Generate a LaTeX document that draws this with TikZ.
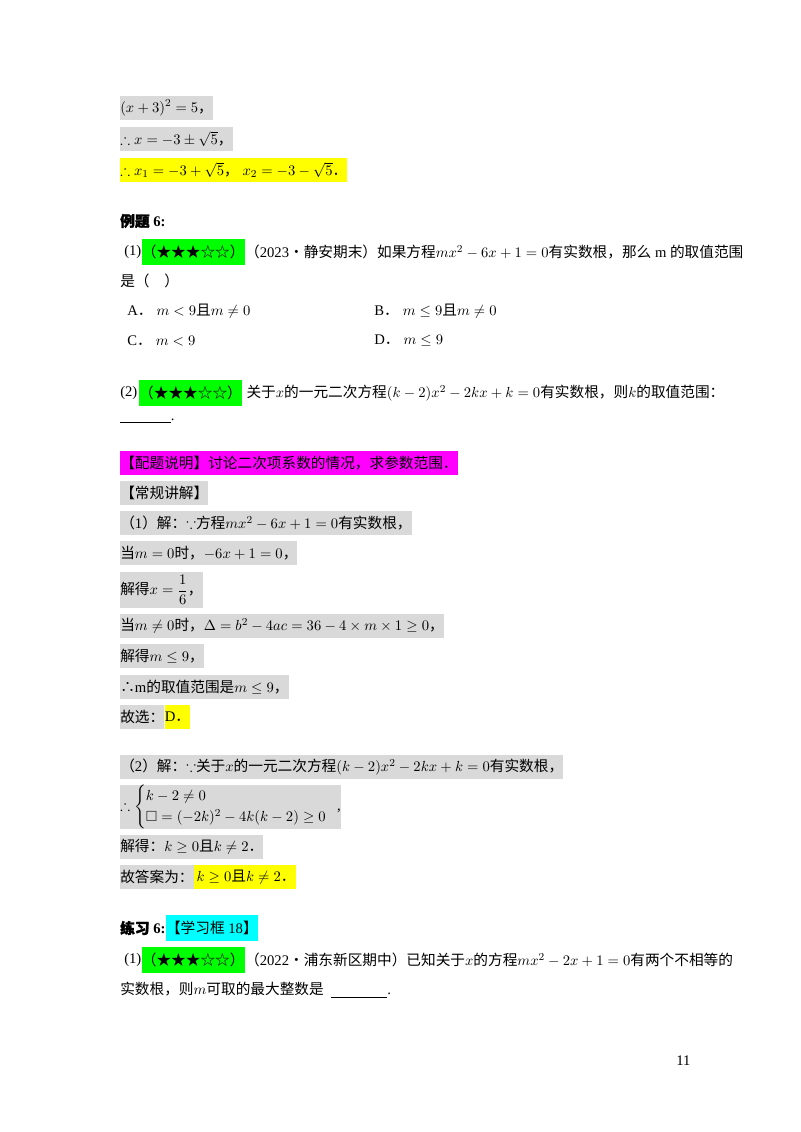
\documentclass[tikz,border=0pt]{standalone}
\usepackage{amsmath,amssymb}
\usepackage{fontspec}
\setmainfont{Liberation Serif}
\newfontfamily\cjk{Noto Sans CJK SC}
\newfontfamily\cjkb{Noto Sans CJK SC}[FakeBold=2]
\definecolor{hg}{HTML}{D9D9D9}
\definecolor{hgr}{HTML}{00FF00}
\definecolor{hy}{HTML}{FFFF00}
\definecolor{hm}{HTML}{FF00FF}
\definecolor{hc}{HTML}{00FFFF}
\newcommand{\C}[1]{{\cjk #1}}
\begin{document}
\begin{tikzpicture}[x=0.75pt,y=-0.75pt,
  every node/.style={font=\fontsize{11}{13}\selectfont},
  t/.style={anchor=west,inner xsep=0pt,inner ysep=0pt,minimum height=18pt},
  g/.style={t,fill=hg},
  gr/.style={t,fill=hgr},
  ye/.style={t,fill=hy}]
\useasboundingbox (0,0) rectangle (800,1132);
\fill[white] (0,0) rectangle (800,1132);

\node[g] (l1) at (120,108) {$(x+3)^2=5$\C{，}};
\node[g] (l2) at (120,139) {$\therefore x=-3\pm\sqrt5$\C{，}};
\node[ye] (l3) at (120,170) {$\therefore x_1=-3+\sqrt5$\C{，} $x_2=-3-\sqrt5$\C{．}};

\node[t] (e6) at (120,221) {\textbf{\cjkb 例题} \textbf{6:}};
\node[t] (p1a) at (124,252) {(1)};
\node[gr,minimum height=19pt] (p1b) at (p1a.east) {\C{（★★★☆☆）}};
\node[t] (p1c) at (p1b.east) {\C{（}2023\C{•静安期末）如果方程}$mx^2-6x+1=0$\C{有实数根，那么} m \C{的取值范围}};
\node[t] (p1d) at (120,281) {\C{是（\quad ）}};
\node[t] (oa) at (127,311) {A\C{．}\;$m<9$\C{且}$m\neq0$};
\node[t] (ob) at (374,311) {B\C{．}\;$m\le9$\C{且}$m\neq0$};
\node[t] (oc) at (127,341) {C\C{．}\;$m<9$};
\node[t] (od) at (374,341) {D\C{．}\;$m\le9$};

\node[t] (p2a) at (120,393) {(2)};
\node[gr,minimum height=19pt] (p2b) at ([xshift=1]p2a.east) {\C{（★★★☆☆）}};
\node[t] (p2c) at (p2b.east) {\;\C{关于}$x$\C{的一元二次方程}$(k-2)x^2-2kx+k=0$\C{有实数根，则}$k$\C{的取值范围：}};
\node[t] (p2d) at (120,421) {\underline{\hspace{38pt}}.};

\node[t,fill=hm] (m1) at (120,463) {\C{【配题说明】讨论二次项系数的情况，求参数范围．}};
\node[g] (s0) at (120,493) {\C{【常规讲解】}};
\node[g] (s1) at (120,523) {\C{（}1\C{）解：}$\because$\C{方程}$mx^2-6x+1=0$\C{有实数根，}};
\node[g] (s2) at (120,553) {\C{当}$m=0$\C{时，}$-6x+1=0$\C{，}};
\node[g,minimum height=27pt] (s3) at (120,590) {\C{解得}$x=\dfrac16$\C{，}};
\node[g] (s4) at (120,626) {\C{当}$m\neq0$\C{时，}$\Delta=b^2-4ac=36-4\times m\times1\ge0$\C{，}};
\node[g] (s5) at (120,656) {\C{解得}$m\le9$\C{，}};
\node[g] (s6) at (120,687) {\C{∴}m\C{的取值范围是}$m\le9$\C{，}};
\node[g] (s7a) at (120,717) {\C{故选：}};
\node[ye] (s7b) at (s7a.east) {D\C{．}};

\node[g] (r1) at (120,767) {\C{（}2\C{）解：}$\because$\C{关于}$x$\C{的一元二次方程}$(k-2)x^2-2kx+k=0$\C{有实数根，}};
\node[g,minimum height=32pt] (r2) at (120,807) {$\therefore\begin{cases}k-2\neq0\\ \square=(-2k)^2-4k(k-2)\ge0\end{cases}$\!\!,};
\node[g] (r3) at (120,847) {\C{解得：}$k\ge0$\C{且}$k\neq2$\C{．}};
\node[g] (r4a) at (120,877) {\C{故答案为：}};
\node[ye] (r4b) at (r4a.east) {\,$k\ge0$\C{且}$k\neq2$\C{．}};

\node[t] (x6a) at (120,928) {\textbf{\cjkb 练习} \textbf{6:}};
\node[t,fill=hc,minimum height=20pt] (x6b) at (x6a.east) {\C{【学习框} 18\C{】}};
\node[t] (x1a) at (124,960) {(1)};
\node[gr,minimum height=19pt] (x1b) at (x1a.east) {\C{（★★★☆☆）}};
\node[t] (x1c) at (x1b.east) {\C{（}2022\C{•浦东新区期中）已知关于}$x$\C{的方程}$mx^2-2x+1=0$\C{有两个不相等的}};
\node[t] (x1d) at (120,990) {\C{实数根，则}$m$\C{可取的最大整数是}\; \underline{\hspace{42pt}}.};

\node[t] (pg) at (676,1061) {11};
\end{tikzpicture}
\end{document}
